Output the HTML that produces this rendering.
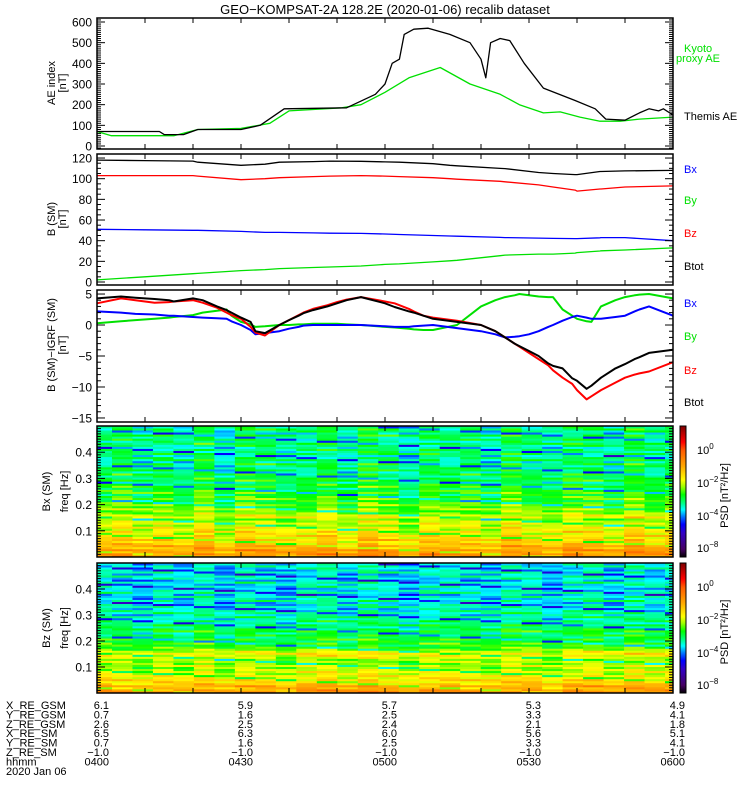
<!DOCTYPE html>
<html><head><meta charset="utf-8"><style>
html,body{margin:0;padding:0;background:#fff;}
svg{display:block;font-family:"Liberation Sans",sans-serif;}
</style></head><body>
<svg id="chart" width="750" height="800" viewBox="0 0 750 800" xmlns="http://www.w3.org/2000/svg">
<rect x="0" y="0" width="750" height="800" fill="#fff"/>
<text x="385" y="14" font-size="13" text-anchor="middle">GEO−KOMPSAT-2A 128.2E (2020-01-06) recalib dataset</text>
<g id="layer"></g>
</svg>
<script>
// ---------- DATA ----------
// time in minutes after 04:00
const aeThemisT = [0,13,14,18,21,30,34,39,52,58,60,61.5,63,64,66,69,73.5,77.7,80,81,82,84,86,89,93,99.6,103.8,106,110,113,115,117,118,120];
const aeThemisV = [70,70,55,55,80,80,100,180,185,250,300,400,420,540,565,570,540,500,420,330,500,520,510,400,280,220,180,130,125,160,180,170,180,150];
const aeKyotoT = [0,3,16,21,30,36,40,51,55,60,65,71.5,77.7,84,88,93,96.5,100.6,104.8,109,113,120];
const aeKyotoV = [70,50,50,80,85,110,170,185,200,260,330,380,300,250,200,160,165,140,120,120,130,140];

const bT = [0,10,20,21,30,35,38,45,48.5,55,60,63,70,73.5,75,84,85,92,95,99.6,100,104.8,105,110,120];
const bBtot = [118,117.5,117,116,113,114,116,116.5,117,116.8,116.3,116,114.5,113,112.5,110,109.8,106,105,104,104,107,107,107.5,108];
const bBz = [103,103,103,102.5,99,100,101,102,102.5,103,102.5,102,101,100,99.5,97.5,97,94,92,89,88,90,90,92,93];
const bBx = [51,50.5,50,50,49,48,48,47.5,47.2,47,46.5,46,45,44.5,44.3,43.2,43,42.5,42.2,42,42,42.8,43,43,40];
const bBy = [2,5,8,8.3,11,12,13,14,14.5,15.5,17,17.5,19.5,20.5,21,25.5,26,27,27,28,28.5,30,30.2,31,33];

const dT = [0,5,8,12,15,16,20,22,25,27,28,30,32,33,35,38,40,42,43,45,48,50,52,55,60,62,65,66,68,70,75,80,83,85,87,88,90,92,94,95,97,99,100,102,103,105,108,110,112,113,115,120];
const dBtot = [4.3,4.6,4.4,4.2,4.0,3.8,4.3,4.0,3.0,2.4,2.0,1.2,0.5,-1.0,-1.3,0.0,0.8,1.5,1.9,2.4,3.0,3.5,4.0,4.5,3.5,2.9,2.2,2.0,1.5,1.0,0.5,0.0,-1.0,-2.0,-3.0,-3.4,-4.2,-5.0,-6.2,-6.6,-7.0,-8.6,-9.0,-10.3,-9.8,-8.5,-7.0,-6.3,-5.5,-5.2,-4.5,-4.0];
const dBz = [3.5,4.3,4.0,3.6,3.7,3.8,4.0,3.6,2.8,2.0,1.6,1.0,-0.3,-1.2,-1.7,0.0,0.8,1.6,2.0,2.6,3.2,3.7,4.1,4.5,3.8,3.5,2.6,2.2,1.5,1.2,0.7,0.0,-1.0,-2.0,-3.0,-3.5,-4.5,-5.5,-6.5,-7.3,-8.5,-9.5,-10.5,-12.0,-11.5,-10.5,-9.3,-8.5,-8.0,-7.8,-7.5,-6.0];
const dBx = [2.2,2.0,1.8,1.7,1.5,1.5,1.3,1.2,1.1,1.0,0.6,0.0,-0.8,-1.5,-1.3,-1.0,-0.6,-0.3,-0.1,0.0,0.0,0.0,0.0,0.0,-0.2,-0.3,-0.3,-0.2,-0.1,0.0,-0.5,-1.0,-1.5,-2.0,-1.9,-1.8,-1.5,-1.0,-0.3,0.0,0.7,1.3,1.5,1.2,1.0,1.0,1.3,1.5,2.2,2.5,3.0,1.5];
const dBy = [0.3,0.6,0.8,1.0,1.2,1.3,1.6,2.0,2.3,2.5,1.5,0.5,0.1,-0.3,-0.2,0.0,0.0,0.1,0.1,0.2,0.2,0.2,0.1,0.0,-0.3,-0.4,-0.6,-0.7,-0.8,-0.8,0.0,3.0,4.0,4.5,4.8,5.0,4.8,4.6,4.5,4.5,2.5,1.5,1.0,0.6,0.5,3.0,4.0,4.5,4.8,4.9,5.0,4.3];

// spectrogram log10(PSD) profiles, index 0 = lowest frequency (64 bins, 0-0.5 Hz)
const specBxRows = [-0.9,-0.7,-1.0,-0.8,-1.2,-1.1,-1.4,-1.6,-1.3,-1.7,-1.5,-1.9,-1.6,-2.0,-1.8,-2.2,-1.9,-2.1,-2.4,-1.8,-2.0,-2.3,-2.5,-2.2,-2.6,-2.4,-2.6,-2.9,-2.5,-2.7,-3.0,-2.6,-2.8,-3.1,-2.7,-2.9,-3.3,-2.8,-3.0,-3.2,-2.9,-3.4,-3.0,-3.1,-3.3,-2.9,-3.5,-3.1,-3.2,-3.6,-3.0,-3.3,-3.1,-3.5,-3.2,-3.0,-3.4,-3.1,-3.3,-2.9,-3.5,-3.2,-3.0,-3.3];
const specBzRows = [-0.7,-0.9,-1.2,-1.0,-1.4,-1.6,-1.5,-1.8,-1.7,-2.0,-1.9,-2.1,-2.3,-2.0,-2.4,-2.2,-2.3,-2.0,-1.8,-1.7,-2.0,-2.4,-2.6,-2.8,-2.6,-3.0,-2.7,-3.1,-2.9,-3.2,-2.8,-3.0,-3.3,-3.0,-3.4,-3.1,-3.5,-3.2,-3.6,-3.3,-3.4,-3.7,-3.4,-3.6,-3.8,-3.3,-3.7,-3.5,-3.9,-3.4,-3.6,-3.8,-3.5,-3.7,-3.4,-3.9,-3.6,-3.5,-3.8,-3.4,-3.7,-3.6,-3.5,-3.7];
const specBxCols = [0,0.2,-0.1,0.1,-0.2,0.3,-0.3,0.2,0.1,-0.1,0,0.2,-0.2,0.3,0.1,-0.3,0.2,0,0.1,-0.2,0.3,0,-0.1,0.2,0.1,-0.2,0.3,0,0.1];
const specBzCols = [0.1,0,-0.2,0.1,-0.1,0.2,-0.2,0.1,0,-0.2,0.1,0.2,-0.1,0.2,0,-0.2,0.1,0.1,0,-0.1,0.2,0.1,-0.2,0.1,0.2,-0.1,0.2,0,0.1];
const specTexture = [0.0,0.35,-0.3,0.15,-0.6,0.25,-0.1,0.45,-0.25,0.05,-1.2,0.3,-0.15,0.2,-0.4,0.1,-0.05];

const posLabels = ["X_RE_GSM","Y_RE_GSM","Z_RE_GSM","X_RE_SM","Y_RE_SM","Z_RE_SM","hhmm"];
const posTimes = [0,30,60,90,120];
const posValues = [
  ["6.1","5.9","5.7","5.3","4.9"],
  ["0.7","1.6","2.5","3.3","4.1"],
  ["2.6","2.5","2.4","2.1","1.8"],
  ["6.5","6.3","6.0","5.6","5.1"],
  ["0.7","1.6","2.5","3.3","4.1"],
  ["−1.0","−1.0","−1.0","−1.0","−1.0"],
  ["0400","0430","0500","0530","0600"]
];

// ---------- HELPERS ----------
const NS = "http://www.w3.org/2000/svg";
const layer = document.getElementById('layer');
function mk(tag, attrs, parent) {
  const e = document.createElementNS(NS, tag);
  for (const k in attrs) e.setAttribute(k, attrs[k]);
  (parent || layer).appendChild(e);
  return e;
}
const X0 = 97, X1 = 673, TMAX = 120;
function xT(t) { return X0 + (X1 - X0) * t / TMAX; }
function yS(p, v) { return p.bot - (v - p.ymin) / (p.ymax - p.ymin) * (p.bot - p.top); }

const pAE = {top:18, bot:149, ymin:-14.5, ymax:619.4};
const pB = {top:154, bot:285, ymin:-2.9, ymax:123.9};
const pD = {top:290, bot:422, ymin:-15.65, ymax:5.65};
const pS1 = {top:426, bot:557, ymin:0, ymax:0.5};
const pS2 = {top:563, bot:693, ymin:0, ymax:0.5};

function frame(p, name) {
  const r = mk('rect', {x:X0, y:p.top, width:X1-X0, height:p.bot-p.top, fill:'none', stroke:'#000', 'stroke-width':1.5});
  
  
  for (let t = 0; t <= TMAX; t += 10) {
    const x = xT(t);
    const a = mk('line', {x1:x, x2:x, y1:p.top, y2:p.top+5, stroke:'#000'});
    
    
    const b = mk('line', {x1:x, x2:x, y1:p.bot, y2:p.bot-5, stroke:'#000'});
    
    
  }
}
function yTicks(p, name, major, minor, fmt, labelSkip) {
  const eps = 1e-9;
  const n0 = Math.ceil((p.ymin) / minor - eps), n1 = Math.floor((p.ymax) / minor + eps);
  for (let n = n0; n <= n1; n++) {
    const v = n * minor;
    const isMajor = Math.abs(v / major - Math.round(v / major)) < 1e-6;
    const y = yS(p, v);
    const len = isMajor ? 8 : 4;
    const l = mk('line', {x1:X0, x2:X0+len, y1:y, y2:y, stroke:'#000'});
    
    
    const r = mk('line', {x1:X1, x2:X1-len, y1:y, y2:y, stroke:'#000'});
    
    
    if (isMajor && !(labelSkip && labelSkip(v))) {
      const t = mk('text', {x:92, y:y+4.5, 'font-size':12, 'text-anchor':'end'});
      t.textContent = fmt(v);
      
      
    }
  }
}
function ylabel(lines, xs, cy, name) {
  lines.forEach((s, i) => {
    const t = mk('text', {x:xs[i], y:cy, 'font-size':11, 'text-anchor':'middle', transform:`rotate(-90 ${xs[i]} ${cy})`});
    t.textContent = s;
    
    
  });
}
function series(p, ts, vs, color, name, w) {
  const pts = ts.map((t, i) => xT(t).toFixed(1) + ',' + yS(p, vs[i]).toFixed(1)).join(' ');
  const l = mk('polyline', {points:pts, fill:'none', stroke:color, 'stroke-width':w||1.3, 'stroke-linejoin':'round'});
  
  
}
function rlabel(txt, x, y, color, name) {
  const t = mk('text', {x:x, y:y, 'font-size':11, fill:color});
  t.textContent = txt;
  
  
}
const minus = s => String(s).replace('-', '−');

// colour map
const cStops = [[-6.5,[0,0,0]],[-6,[70,0,100]],[-5,[50,0,200]],[-4.5,[0,0,255]],[-4,[0,128,255]],[-3.6,[0,255,255]],[-3.2,[0,255,128]],[-2.7,[0,255,0]],[-2.2,[160,255,0]],[-1.8,[255,255,0]],[-1,[255,170,0]],[0,[255,90,0]],[0.5,[255,0,0]],[1.45,[128,0,0]]];
function cmap(v) {
  if (v <= cStops[0][0]) return 'rgb(0,0,0)';
  for (let i = 1; i < cStops.length; i++) {
    if (v <= cStops[i][0]) {
      const a = cStops[i-1], b = cStops[i], f = (v - a[0]) / (b[0] - a[0]);
      const c = a[1].map((q, k) => Math.round(q + (b[1][k] - q) * f));
      return `rgb(${c[0]},${c[1]},${c[2]})`;
    }
  }
  return 'rgb(128,0,0)';
}

// ---------- PANEL 1: AE ----------
series(pAE, aeKyotoT, aeKyotoV, '#00e000', 'kyoto-ae-line');
series(pAE, aeThemisT, aeThemisV, '#000', 'themis-ae-line');
frame(pAE, 'ae-panel');
yTicks(pAE, 'ae', 100, 10, v => String(v));
ylabel(['AE index', '[nT]'], [55, 66], 83, 'ae-y-axis-title');
rlabel('Kyoto', 684, 52, '#00e000', 'legend-kyoto');
rlabel('proxy AE', 676, 62, '#00e000', 'legend-proxy-ae');
rlabel('Themis AE', 684, 120, '#000', 'legend-themis-ae');

// ---------- PANEL 2: B ----------
series(pB, bT, bBy, '#00e000', 'b-by-line');
series(pB, bT, bBx, '#0000ff', 'b-bx-line');
series(pB, bT, bBz, '#ff0000', 'b-bz-line');
series(pB, bT, bBtot, '#000', 'b-btot-line');
frame(pB, 'b-panel');
yTicks(pB, 'b', 20, 5, v => String(v));
ylabel(['B (SM)', '[nT]'], [55, 66], 219, 'b-y-axis-title');
rlabel('Bx', 684, 173, '#0000ff', 'legend-bx');
rlabel('By', 684, 204, '#00e000', 'legend-by');
rlabel('Bz', 684, 237, '#ff0000', 'legend-bz');
rlabel('Btot', 684, 270, '#000', 'legend-btot');

// ---------- PANEL 3: dB ----------
series(pD, dT, dBy, '#00e000', 'db-by-line', 2);
series(pD, dT, dBx, '#0000ff', 'db-bx-line', 2);
series(pD, dT, dBz, '#ff0000', 'db-bz-line', 2);
series(pD, dT, dBtot, '#000', 'db-btot-line', 2);
frame(pD, 'db-panel');
yTicks(pD, 'db', 5, 1, v => minus(v));
ylabel(['B (SM)−IGRF (SM)', '[nT]'], [55, 66], 345, 'db-y-axis-title');
rlabel('Bx', 684, 307, '#0000ff', 'legend-db-bx');
rlabel('By', 684, 340, '#00e000', 'legend-db-by');
rlabel('Bz', 684, 374, '#ff0000', 'legend-db-bz');
rlabel('Btot', 684, 406, '#000', 'legend-db-btot');

// ---------- SPECTROGRAMS ----------
function spectro(p, rows, cols, name, comp) {
  const nR = rows.length;
  const colW = (X1 - X0) * 10 / 58 / 10 * 2.0625; // ~20.5 px per column
  const firstEdge = 112;
  for (let c = 0; c < cols.length; c++) {
    const xa = c === 0 ? X0 : firstEdge + (c - 1) * colW;
    const xb = Math.min(X1, firstEdge + c * colW);
    if (xa >= X1) break;
    for (let r = 0; r < nR; r++) {
      const f0 = r / nR * 0.5, f1 = (r + 1) / nR * 0.5;
      const ya = yS(p, f1), yb = yS(p, f0);
      const v = rows[r] + cols[c] + specTexture[(r * 5 + c * 11) % specTexture.length];
      const cell = mk('rect', {x:xa.toFixed(2), y:ya.toFixed(2), width:(xb-xa+0.4).toFixed(2), height:(yb-ya+0.4).toFixed(2), fill:cmap(v)});
      
      
    }
  }
  frame(p, name);
  yTicks(p, name, 0.1, 0.01, v => v.toFixed(1), v => Math.abs(v) < 1e-6 || v > 0.45);
  ylabel([comp + ' (SM)', 'freq [Hz]'], [50, 68], (p.top + p.bot) / 2, name + '-y-axis-title');
  // colour bar
  const cbx = 680, cbw = 6;
  const steps = 120;
  for (let i = 0; i < steps; i++) {
    const v = -6.5 + (1.45 + 6.5) * (i + 0.5) / steps;
    const y = p.bot - (i + 1) * (p.bot - p.top) / steps;
    const s = mk('rect', {x:cbx, y:y.toFixed(2), width:cbw, height:((p.bot-p.top)/steps+0.4).toFixed(2), fill:cmap(v)});
    
    
  }
  const cb = mk('rect', {x:cbx, y:p.top, width:cbw, height:p.bot-p.top, fill:'none', stroke:'#000'});
  
  
  [['0',24],['−2',57],['−4',90],['−8',122]].forEach(([e, dy]) => {
    const t = mk('text', {x:697, y:p.top + dy + 4, 'font-size':11});
    
    
    t.appendChild(document.createTextNode('10'));
    const sp = mk('tspan', {dy:-5, 'font-size':8}, t);
    sp.textContent = e;
  });
  const cy = (p.top + p.bot) / 2 + 4;
  const t = mk('text', {x:728, y:cy, 'font-size':11, 'text-anchor':'middle', transform:`rotate(-90 728 ${cy})`});
  t.textContent = 'PSD [nT²/Hz]';
  
  
}
spectro(pS1, specBxRows, specBxCols, 'bx-spectrogram', 'Bx');
spectro(pS2, specBzRows, specBzCols, 'bz-spectrogram', 'Bz');

// ---------- POSITION TABLE ----------
posLabels.forEach((lab, i) => {
  const y = 709 + i * 9.4;
  const t = mk('text', {x:6, y:y, 'font-size':11});
  t.textContent = lab;
  
  
  posTimes.forEach((tm, j) => {
    const v = mk('text', {x:xT(tm) + 12, y:y, 'font-size':11, 'text-anchor':'end'});
    v.textContent = posValues[i][j];
    
    
  });
});
const dl = mk('text', {x:6, y:709 + 7 * 9.4, 'font-size':11});
dl.textContent = '2020 Jan 06';


</script>
</body></html>
